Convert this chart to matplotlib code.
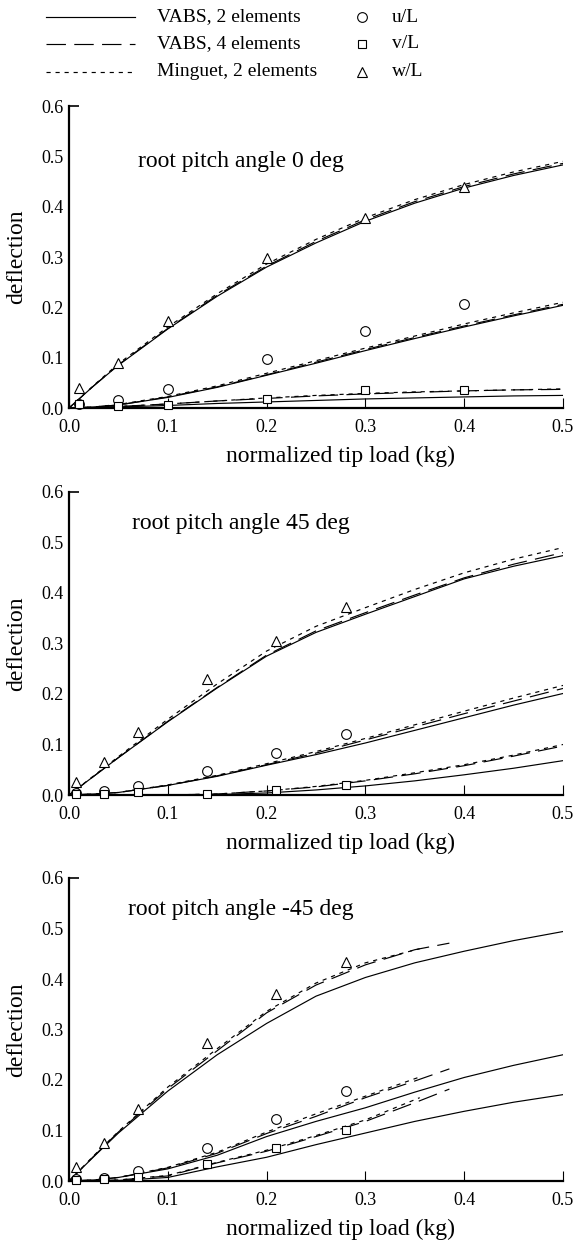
import matplotlib
matplotlib.use('Agg')
import matplotlib.pyplot as plt
from matplotlib.lines import Line2D

plt.rcParams['font.family'] = ['Liberation Serif', 'DejaVu Serif']
plt.rcParams['lines.scale_dashes'] = False

# ---- data ----
x_line = [0, .025, .05, .1, .15, .2, .25, .3, .35, .4, .45, .5]
x_4el = [0, .025, .05, .1, .15, .2, .25, .3, .35, .385]
x_ming = [0, .025, .05, .1, .15, .2, .25, .3, .355]

# root pitch 0 deg
x_pts_0 = [0.01, 0.05, 0.1, 0.2, 0.3, 0.4]
w_pts_0 = [0.04, 0.09, 0.172, 0.298, 0.378, 0.44]
u_pts_0 = [0.008, 0.016, 0.038, 0.097, 0.153, 0.207]
v_pts_0 = [0.008, 0.004, 0.006, 0.018, 0.035, 0.035]
w2_0 = [0, 0.044, 0.085, 0.157, 0.222, 0.28, 0.328, 0.371, 0.407, 0.437, 0.462, 0.483]
w4_0 = [0, 0.044, 0.086, 0.158, 0.224, 0.282, 0.331, 0.374, 0.410, 0.440, 0.465, 0.486]
wm_0 = [0, 0.045, 0.088, 0.161, 0.227, 0.286, 0.335, 0.378, 0.414, 0.444, 0.469, 0.490]
u2_0 = [0, 0.002, 0.006, 0.021, 0.041, 0.065, 0.089, 0.114, 0.138, 0.161, 0.183, 0.204]
u4_0 = [0, 0.002, 0.006, 0.022, 0.042, 0.066, 0.091, 0.116, 0.140, 0.163, 0.185, 0.206]
um_0 = [0, 0.002, 0.007, 0.023, 0.044, 0.069, 0.094, 0.119, 0.143, 0.167, 0.189, 0.210]
v2_0 = [0, 0.001, 0.002, 0.005, 0.009, 0.012, 0.015, 0.018, 0.020, 0.022, 0.024, 0.025]
v4_0 = [0, 0.001, 0.003, 0.008, 0.014, 0.019, 0.024, 0.028, 0.031, 0.034, 0.036, 0.037]
vm_0 = [0, 0.001, 0.003, 0.008, 0.014, 0.020, 0.025, 0.029, 0.032, 0.034, 0.036, 0.038]

# root pitch 45 deg
x_pts_45 = [0.007, 0.035, 0.07, 0.14, 0.21, 0.28]
w_pts_45 = [0.026, 0.065, 0.124, 0.229, 0.305, 0.372]
u_pts_45 = [0.003, 0.007, 0.017, 0.047, 0.084, 0.121]
v_pts_45 = [0.002, 0.002, 0.006, 0.002, 0.009, 0.02]
w2_45 = [0, 0.037, 0.074, 0.145, 0.212, 0.275, 0.322, 0.358, 0.393, 0.428, 0.453, 0.474]
w4_45 = [0, 0.037, 0.074, 0.146, 0.213, 0.277, 0.325, 0.361, 0.396, 0.430, 0.457, 0.480]
wm_45 = [0, 0.038, 0.076, 0.150, 0.220, 0.285, 0.334, 0.371, 0.407, 0.440, 0.467, 0.490]
u2_45 = [0, 0.002, 0.005, 0.019, 0.037, 0.059, 0.080, 0.103, 0.128, 0.153, 0.178, 0.201]
u4_45 = [0, 0.002, 0.005, 0.019, 0.038, 0.060, 0.083, 0.109, 0.135, 0.161, 0.186, 0.211]
um_45 = [0, 0.002, 0.005, 0.020, 0.039, 0.062, 0.086, 0.112, 0.139, 0.166, 0.192, 0.217]
v2_45 = [0, 0, 0, 0, 0.001, 0.004, 0.010, 0.018, 0.028, 0.040, 0.053, 0.068]
v4_45 = [0, 0, 0, 0, 0.002, 0.008, 0.016, 0.028, 0.042, 0.058, 0.077, 0.097]
vm_45 = [0, 0, 0, 0, 0.002, 0.008, 0.017, 0.029, 0.044, 0.060, 0.079, 0.100]

# root pitch -45 deg (4 elements / Minguet curves stop early)
x_pts_m45 = [0.007, 0.035, 0.07, 0.14, 0.21, 0.28]
w_pts_m45 = [0.028, 0.075, 0.142, 0.274, 0.371, 0.433]
u_pts_m45 = [0.004, 0.006, 0.019, 0.065, 0.123, 0.178]
v_pts_m45 = [0.002, 0.004, 0.007, 0.034, 0.066, 0.101]
w2_m45 = [0, 0.048, 0.095, 0.178, 0.250, 0.312, 0.366, 0.403, 0.432, 0.455, 0.476, 0.494]
w4_m45 = [0, 0.049, 0.097, 0.183, 0.258, 0.333, 0.388, 0.428, 0.458, 0.471]
wm_m45 = [0, 0.050, 0.098, 0.186, 0.262, 0.336, 0.392, 0.432, 0.460]
u2_m45 = [0, 0.002, 0.007, 0.024, 0.051, 0.088, 0.118, 0.145, 0.176, 0.205, 0.229, 0.250]
u4_m45 = [0, 0.002, 0.007, 0.026, 0.055, 0.094, 0.128, 0.165, 0.198, 0.222]
um_m45 = [0, 0.002, 0.007, 0.027, 0.057, 0.097, 0.133, 0.168, 0.206]
v2_m45 = [0, 0.0005, 0.001, 0.007, 0.028, 0.047, 0.072, 0.095, 0.118, 0.138, 0.156, 0.171]
v4_m45 = [0, 0.001, 0.002, 0.010, 0.036, 0.059, 0.088, 0.118, 0.155, 0.182]
vm_m45 = [0, 0.001, 0.002, 0.011, 0.037, 0.061, 0.090, 0.121, 0.165]

titles = ['root pitch angle 0 deg', 'root pitch angle 45 deg', 'root pitch angle -45 deg']
title_y = [0.49, 0.537, 0.537]
xticks = [0.0, 0.1, 0.2, 0.3, 0.4, 0.5]
yticks = [0.0, 0.1, 0.2, 0.3, 0.4, 0.5, 0.6]

panels = [
    (x_line, x_line, x_pts_0, w_pts_0, u_pts_0, v_pts_0,
     [w2_0, u2_0, v2_0], [w4_0, u4_0, v4_0], [wm_0, um_0, vm_0]),
    (x_line, x_line, x_pts_45, w_pts_45, u_pts_45, v_pts_45,
     [w2_45, u2_45, v2_45], [w4_45, u4_45, v4_45], [wm_45, um_45, vm_45]),
    (x_4el, x_ming, x_pts_m45, w_pts_m45, u_pts_m45, v_pts_m45,
     [w2_m45, u2_m45, v2_m45], [w4_m45, u4_m45, v4_m45], [wm_m45, um_m45, vm_m45]),
]

DASH4 = (0, (14, 6))
DOT = (0, (3, 3.5))
LW = 0.85
W, H = 576, 1243

fig = plt.figure(figsize=(W / 100, H / 100), dpi=100)

# axes boxes in pixels: left, right, top, bottom
left_px, right_px = 69, 563
tops = [106, 492, 878]
bottoms = [408, 795, 1181]

for i, (x4, xm, xp, wp, up, vp, s2, s4, sm) in enumerate(panels):
    ax = fig.add_axes([left_px / W, 1 - bottoms[i] / H,
                       (right_px - left_px) / W, (bottoms[i] - tops[i]) / H])
    for y in s2:
        ax.plot(x_line, y, color='black', lw=LW, ls='-')
    for y in s4:
        ax.plot(x4, y, color='black', lw=LW, ls=DASH4)
    for y in sm:
        ax.plot(xm, y, color='black', lw=LW, ls=DOT)
    mk = dict(ls='none', mfc='white', mec='black', mew=0.8, clip_on=False, zorder=5)
    ax.plot(xp, up, marker='o', ms=7, **mk)
    ax.plot(xp, vp, marker='s', ms=6, **mk)
    ax.plot(xp, wp, marker='^', ms=7.5, **mk)

    ax.set_xlim(0, 0.5)
    ax.set_ylim(0, 0.6)
    ax.set_xticks(xticks)
    ax.set_yticks(yticks)
    ax.set_xticklabels(['%.1f' % t for t in xticks])
    ax.set_yticklabels(['%.1f' % t for t in yticks])
    ax.spines['top'].set_visible(False)
    ax.spines['right'].set_visible(False)
    ax.spines['left'].set_linewidth(1.6)
    ax.spines['bottom'].set_linewidth(1.6)
    ax.tick_params(axis='x', direction='in', length=7, width=0.8, labelsize=13, pad=8)
    ax.tick_params(axis='y', direction='in', length=0, width=1.2, labelsize=13, pad=4)
    ax.yaxis.get_major_ticks()[-1].tick1line.set_markersize(7)
    ax.set_xlabel('normalized tip load (kg)', fontsize=17)
    ax.set_ylabel('deflection', fontsize=17)
    ax.xaxis.set_label_coords(0.55, -0.125)
    ax.yaxis.set_label_coords(-0.085, 0.5)
    ax.text(0.174, title_y[i], titles[i], fontsize=17, ha='center', va='center')

# legend drawn by hand at the top
leg_rows = [17, 44, 72]
leg_styles = ['-', DASH4, DOT]
leg_names = ['VABS, 2 elements', 'VABS, 4 elements', 'Minguet, 2 elements']
mk_styles = [('o', 7), ('s', 6), ('^', 7.5)]
mk_names = ['u/L', 'v/L', 'w/L']
for r, ls, name, (m, ms), mname in zip(leg_rows, leg_styles, leg_names, mk_styles, mk_names):
    yf = 1 - r / H
    fig.add_artist(Line2D([46 / W, 135 / W], [yf, yf], color='black', lw=LW, ls=ls,
                          transform=fig.transFigure))
    fig.text(157 / W, yf, name, fontsize=14, va='center', ha='left')
    fig.add_artist(Line2D([362 / W], [yf], marker=m, ms=ms, mfc='white',
                          mec='black', mew=0.8, ls='none', transform=fig.transFigure))
    fig.text(392 / W, yf, mname, fontsize=14, va='center', ha='left')

fig.savefig('out.png', dpi=100)
